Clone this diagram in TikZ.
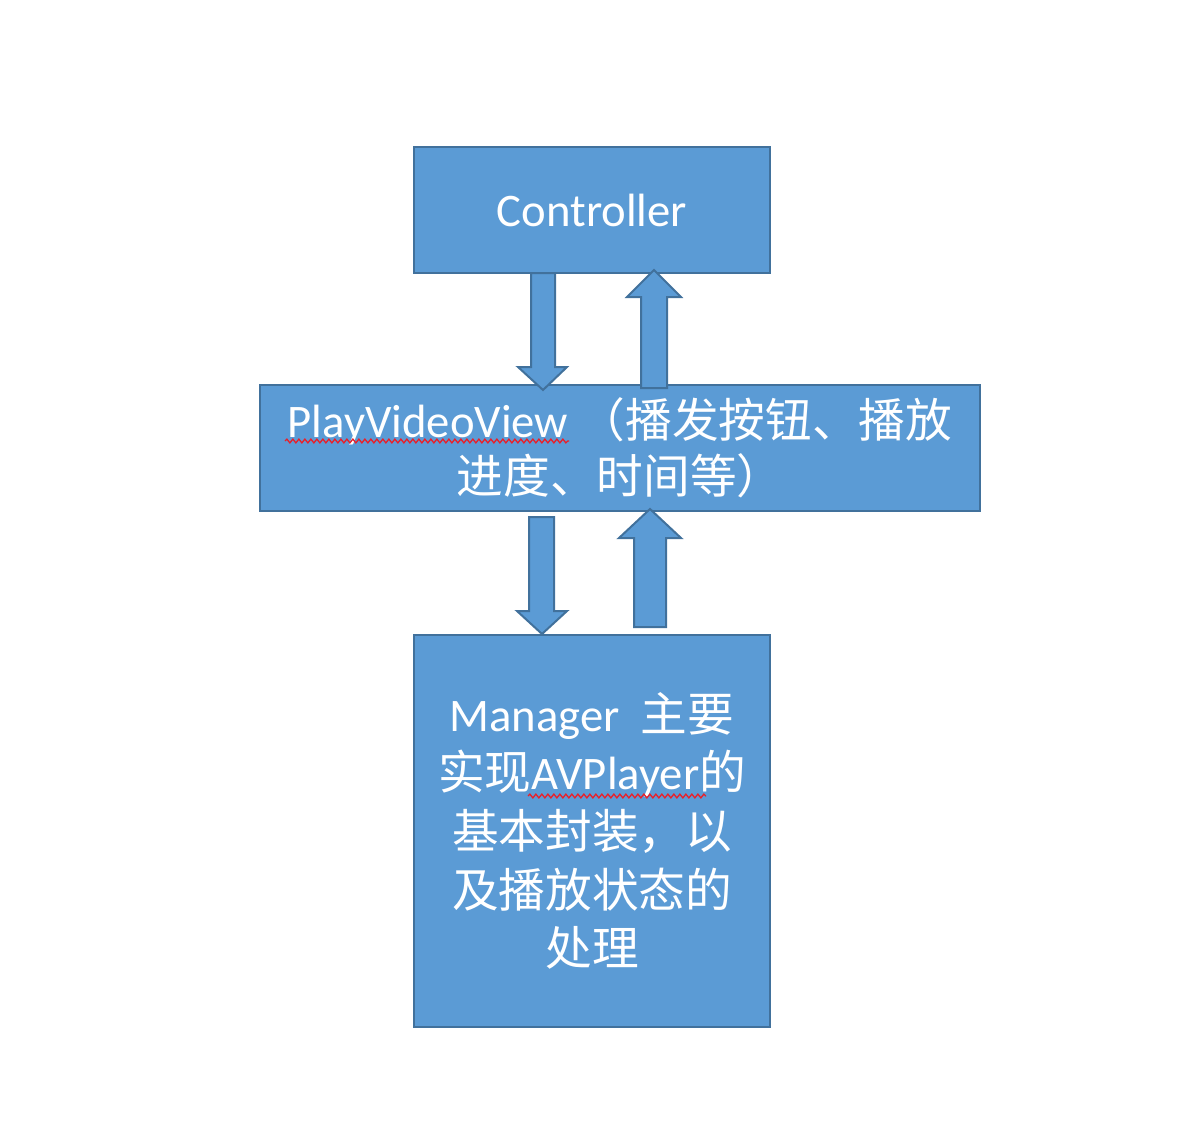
\documentclass[tikz,border=0pt]{standalone}
\usepackage{fontspec}
\setmainfont{Carlito}
\newfontfamily\cjk{Noto Sans CJK SC}
\usetikzlibrary{decorations.pathmorphing}
\definecolor{boxfill}{HTML}{5B9BD5}
\definecolor{boxline}{HTML}{41719C}
\definecolor{squig}{HTML}{E8202A}
\tikzset{
  box/.style={draw=boxline, fill=boxfill, line width=1.5pt, inner sep=0pt,
    text=white, align=center, font=\fontsize{35}{43}\selectfont},
  blockarrow/.style={draw=boxline, fill=boxfill, line width=1.5pt, line join=miter},
  spell/.style={draw=squig, line width=1pt, decorate,
    decoration={snake, amplitude=1.4pt, segment length=4.5pt}}
}
\begin{document}
\begin{tikzpicture}[x=0.75pt,y=-0.75pt]
\useasboundingbox (0,0) rectangle (1204,1138);
% boxes
\node[box, minimum width=267pt, minimum height=94.5pt] (ctrl) at (592,210) {Controller};
\node[box, minimum width=540pt, minimum height=94.5pt] (view) at (620,448)
  {PlayVideoView {\cjk （播发按钮、播放}\\[-1pt]{\cjk 进度、时间等）}};
\node[box, minimum width=267pt, minimum height=294pt] (mgr) at (592,831)
  {Manager\ \ {\cjk 主要}\\[1pt]{\cjk 实现}AVPlayer{\cjk 的}\\[1pt]{\cjk 基本封装，以}\\[1pt]{\cjk 及播放状态的}\\[1pt]{\cjk 处理}};
% block arrows between Controller and PlayVideoView
\draw[blockarrow] (531,273) -- (555,273) -- (555,367) -- (567,367) -- (543,390)
  -- (518,367) -- (531,367) -- cycle;
\draw[blockarrow] (641,388) -- (641,297) -- (627,297) -- (654,270) -- (681,297)
  -- (667,297) -- (667,388) -- cycle;
% block arrows between PlayVideoView and Manager
\draw[blockarrow] (529,517) -- (554,517) -- (554,611) -- (567,611) -- (542,634)
  -- (517,611) -- (529,611) -- cycle;
\draw[blockarrow] (634,627) -- (634,538) -- (619,538) -- (650,509) -- (681,538)
  -- (666,538) -- (666,627) -- cycle;
% spell-check underlines
\draw[spell] (285,441) -- (569,441);
\draw[spell] (528,796) -- (706,796);
\end{tikzpicture}
\end{document}
